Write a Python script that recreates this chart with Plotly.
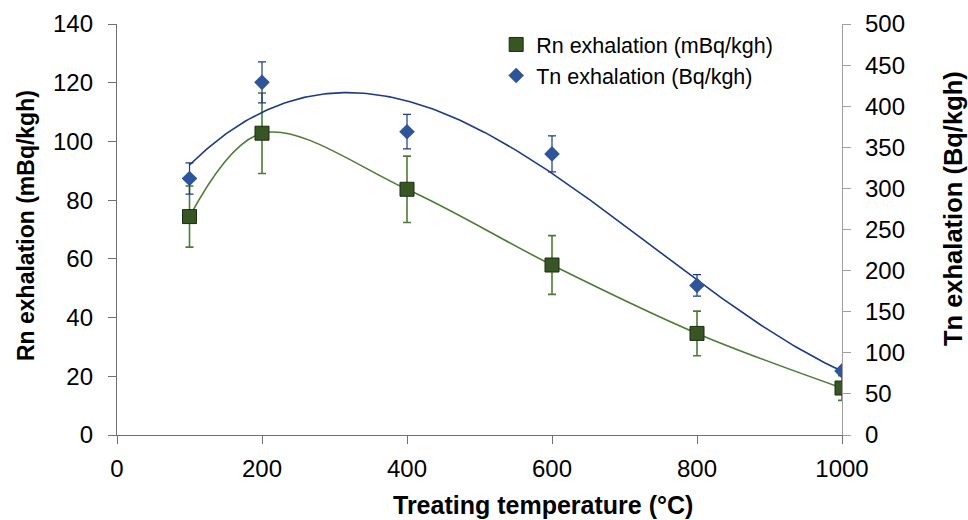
import numpy as np
import plotly.graph_objects as go

temperature = [100, 200, 400, 600, 800, 1000]
rn_values = [74.4, 102.8, 83.7, 57.9, 34.6, 16.0]
rn_errors = [10.4, 13.7, 11.3, 10.0, 7.6, 4.2]
tn_values = [312, 429, 369, 342, 182, 78]
tn_errors = [19, 25, 21, 22, 13, 4]

rn_label = "Rn exhalation (mBq/kgh)"
tn_label = "Tn exhalation (Bq/kgh)"
x_title = "Treating temperature (°C)"
y_title = "Rn exhalation (mBq/kgh)"
y2_title = "Tn exhalation (Bq/kgh)"

GREEN = "#375623"
GREEN_LINE = "#4f7a35"
BLUE = "#2e5597"
NAVY = "#1d3a87"
FONT = "Liberation Sans, Arial, sans-serif"

# Tn: cubic polynomial trendline fitted to the data
xs = np.linspace(temperature[0], temperature[-1], 200)
tn_fit = np.polyval(np.polyfit(temperature, tn_values, 3), xs)

fig = go.Figure()
# Rn: smoothed line through the data points
fig.add_trace(go.Scatter(x=temperature, y=rn_values, mode="lines",
                         line=dict(color=GREEN_LINE, width=1.6, shape="spline", smoothing=1.0),
                         showlegend=False, hoverinfo="skip"))
fig.add_trace(go.Scatter(x=xs, y=tn_fit, mode="lines", line=dict(color=NAVY, width=1.6),
                         showlegend=False, hoverinfo="skip", yaxis="y2"))
fig.add_trace(go.Scatter(
    x=temperature, y=rn_values, mode="markers", name=rn_label,
    marker=dict(symbol="square", size=14, color=GREEN, line=dict(color="#1c2c12", width=1)),
    error_y=dict(type="data", array=rn_errors, color=GREEN_LINE, thickness=1.6, width=4),
))
fig.add_trace(go.Scatter(
    x=temperature, y=tn_values, mode="markers", name=tn_label, yaxis="y2",
    marker=dict(symbol="diamond", size=12, color=BLUE, line=dict(color=BLUE, width=0)),
    error_y=dict(type="data", array=tn_errors, color=NAVY, thickness=1.2, width=4),
))

tick_font = dict(family=FONT, size=24, color="#000000")

common = dict(showgrid=False, zeroline=False, showline=True, linewidth=1.3,
              ticks="outside", ticklen=8, tickfont=tick_font, automargin=False)

fig.update_layout(
    width=968, height=520,
    margin=dict(l=117, r=126, t=24, b=85),
    paper_bgcolor="white", plot_bgcolor="white",
    font=dict(family=FONT, color="#000000"),
    xaxis=dict(range=[0, 1000], tickvals=[0, 200, 400, 600, 800, 1000],
               linecolor="#707070", tickcolor="#707070", ticklabelstandoff=4, **common),
    yaxis=dict(range=[0, 140], tickvals=list(range(0, 141, 20)),
               linecolor="#707070", tickcolor="#707070", ticklabelstandoff=10, **common),
    yaxis2=dict(range=[0, 500], tickvals=list(range(0, 501, 50)), overlaying="y", side="right",
                linecolor="#a0a0a0", tickcolor="#a0a0a0", ticklabelstandoff=9, **common),
    legend=dict(x=0.523, y=1.0, xanchor="left", yanchor="top", bgcolor="rgba(0,0,0,0)",
                font=dict(family=FONT, size=21.5, color="#000000"), itemwidth=30),
    showlegend=True,
    annotations=[
        dict(text=f"<b>{x_title}</b>", xref="paper", yref="paper", x=0.5876, y=-0.170,
             xanchor="center", yanchor="middle", showarrow=False,
             font=dict(family=FONT, size=25, color="#000000")),
        dict(text=f"<b>{y_title}</b>", xref="paper", yref="paper", x=-0.1255, y=0.5085,
             xanchor="center", yanchor="middle", textangle=-90, showarrow=False,
             font=dict(family=FONT, size=23, color="#000000")),
        dict(text=f"<b>{y2_title}</b>", xref="paper", yref="paper", x=1.153, y=0.552,
             xanchor="center", yanchor="middle", textangle=-90, showarrow=False,
             font=dict(family=FONT, size=25.5, color="#000000")),
    ],
)

fig.write_html("out.html", config={"displayModeBar": False},
               post_script="document.body.style.margin='0';document.body.style.padding='0';")
